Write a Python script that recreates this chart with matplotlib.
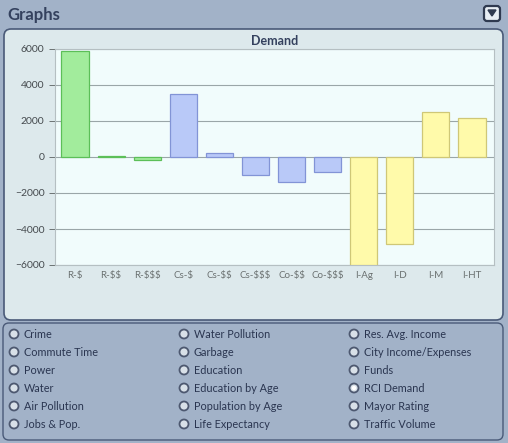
import matplotlib
matplotlib.use("Agg")
import matplotlib.pyplot as plt
from matplotlib.patches import FancyBboxPatch, Circle

plt.rcParams["font.family"] = ["Lato", "DejaVu Sans"]

categories = ["R-$", "R-$$", "R-$$$", "Cs-$", "Cs-$$", "Cs-$$$",
              "Co-$$", "Co-$$$", "I-Ag", "I-D", "I-M", "I-HT"]
demand = [5880, 50, -180, 3500, 200, -1020, -1400, -850, -6000, -4850, 2520, 2150]
groups = ["R"] * 3 + ["C"] * 5 + ["I"] * 4
yticks = [6000, 4000, 2000, 0, -2000, -4000, -6000]

graph_names = [
    ["Crime", "Commute Time", "Power", "Water", "Air Pollution", "Jobs & Pop."],
    ["Water Pollution", "Garbage", "Education", "Education by Age",
     "Population by Age", "Life Expectancy"],
    ["Res. Avg. Income", "City Income/Expenses", "Funds", "RCI Demand",
     "Mayor Rating", "Traffic Volume"],
]
selected = "RCI Demand"

face = {"R": "#a2ec9c", "C": "#b9c9f8", "I": "#fffaaa"}
edge = {"R": "#5cbf58", "C": "#8294d6", "I": "#cfc777"}

W, H = 508, 443
fig = plt.figure(figsize=(W / 100, H / 100), dpi=100)
fig.patch.set_facecolor("#a2b2c8")

# pixel-space overlay for the window chrome
bg = fig.add_axes([0, 0, 1, 1], zorder=0)
bg.set_xlim(0, W)
bg.set_ylim(H, 0)
bg.axis("off")

bg.add_patch(FancyBboxPatch((4, 29), 499, 291, boxstyle="round,pad=0,rounding_size=7",
                            fc="#dde9ec", ec="#4a5a78", lw=1.2))
bg.add_patch(FancyBboxPatch((3, 323), 500, 117, boxstyle="round,pad=0,rounding_size=6",
                            fc="none", ec="#4a5a78", lw=1.0))
bg.text(7, 15, "Graphs", fontsize=12, fontweight="bold", color="#34415e",
        va="center", ha="left")
bg.add_patch(FancyBboxPatch((484, 6), 16, 15, boxstyle="round,pad=0,rounding_size=3",
                            fc="#e8eef4", ec="#2f3a50", lw=1.6))
bg.fill([488, 496, 492], [10, 10, 16], color="#2f3a50")

# radio buttons
for c, names in enumerate(graph_names):
    for r, name in enumerate(names):
        x = 14 + c * 170
        y = 334 + r * 18
        bg.add_patch(Circle((x, y), 4.5, fc="#d8e0e8", ec="#4d5870", lw=1.3))
        if name == selected:
            bg.add_patch(Circle((x, y), 2.2, fc="white", ec="none"))
        bg.text(x + 10, y, name, fontsize=7.8, color="#2a3550", va="center",
                ha="left", parse_math=False)

ax = fig.add_axes([55 / W, 1 - 265 / H, 439 / W, 216 / H], zorder=1)
ax.set_facecolor("#f1fcfc")
x = range(len(categories))
ax.bar(x, demand, width=0.75,
       color=[face[g] for g in groups],
       edgecolor=[edge[g] for g in groups], linewidth=0.9, zorder=3)
ax.set_ylim(-6000, 6000)
ax.set_xlim(-0.554, 11.61)
ax.set_yticks(yticks)
ax.yaxis.grid(True, color="#9aa6a8", lw=0.8, zorder=0)
ax.set_xticks(list(x))
ax.set_xticklabels(categories, fontsize=7, color="#6a7070")
for lbl in ax.get_xticklabels():
    lbl.set_parse_math(False)
ax.tick_params(axis="x", length=0, pad=4)
ax.tick_params(axis="y", labelsize=7.5, colors="#5a6060", length=4, width=0.6)
for lbl in ax.get_yticklabels():
    lbl.set_color("#454a4e")
for s in ax.spines.values():
    s.set_color("#b5bfc2")
    s.set_linewidth(0.8)
ax.set_title("Demand", fontsize=9, fontweight="bold", color="#34415e", pad=3)

fig.savefig("out.png", dpi=100, facecolor=fig.get_facecolor())
